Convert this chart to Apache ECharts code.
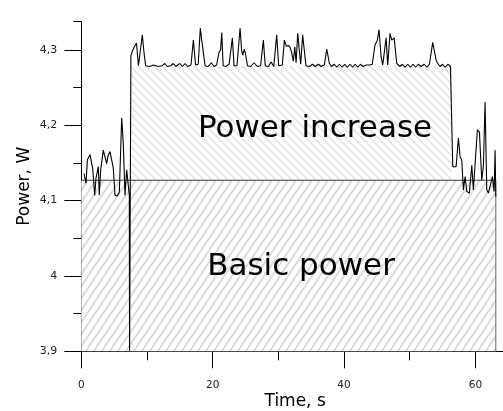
<!DOCTYPE html>
<html><head><meta charset="utf-8">
<script src="https://cdn.jsdelivr.net/npm/echarts@6/dist/echarts.min.js"></script>
<style>html,body{margin:0;padding:0;background:#fff}#c{width:503px;height:411px}</style>
</head><body><div id="c"></div>
<script>
// ---- data ----
const timeS = [0.41,0.72,0.92,1.32,1.58,1.73,2.04,2.24,2.59,2.74,2.95,3.15,3.35,3.61,3.86,4.11,4.37,4.62,4.87,5.13,5.48,5.79,6.15,6.40,6.65,6.91,7.16,7.31,7.35,
 7.55,7.75,8.05,8.4,8.6,8.7,9.0,9.29,9.55,9.8,10.4,11.0,11.3,11.7,12.3,12.7,13.1,13.6,14.0,14.4,15.0,15.4,15.8,16.2,16.7,17.06,17.4,17.8,18.12,18.35,18.63,18.84,
 19.3,19.8,20.2,20.6,20.97,21.2,21.38,21.6,22.0,22.5,23.0,23.25,23.7,24.17,24.4,24.57,24.83,25.03,25.3,25.8,26.3,26.8,27.3,27.72,28.0,28.5,28.9,29.3,29.75,30.05,
 30.6,30.92,31.2,31.53,31.8,32.03,32.28,32.5,32.7,32.95,33.15,33.4,33.7,33.95,34.2,34.7,35.2,35.6,36.1,36.5,37.0,37.37,37.77,38.1,38.5,38.9,39.3,39.7,40.1,40.5,
 40.9,41.3,41.7,42.1,42.5,42.9,43.4,43.9,44.3,44.72,45.07,45.33,45.64,45.89,46.40,46.65,47.0,47.26,47.62,48.03,48.5,48.9,49.3,49.7,50.1,50.5,50.9,51.3,51.7,52.2,
 52.6,53.0,53.5,53.7,54.0,54.2,54.6,55.0,55.4,55.8,56.2,56.4,56.55,57.06,57.41,57.67,57.92,58.17,58.43,58.69,59.08,59.45,59.69,59.95,60.3,60.61,60.97,61.22,61.47,
 61.73,61.98,62.23,62.58,62.84,63.0,63.1];
const powerW = [4.136,4.123,4.154,4.161,4.163,4.143,4.107,4.130,4.145,4.107,4.141,4.154,4.167,4.169,4.149,4.161,4.165,4.163,4.143,4.107,4.106,4.111,4.210,4.174,4.107,4.141,4.140,4.107,3.900,
 4.292,4.298,4.304,4.309,4.311,4.279,4.280,4.320,4.296,4.279,4.278,4.280,4.282,4.278,4.279,4.282,4.278,4.279,4.282,4.278,4.282,4.278,4.282,4.278,4.280,4.313,4.280,4.281,4.329,4.312,4.312,4.279,
 4.278,4.283,4.278,4.280,4.297,4.300,4.323,4.279,4.278,4.281,4.316,4.279,4.279,4.329,4.300,4.293,4.301,4.293,4.279,4.278,4.283,4.278,4.279,4.313,4.279,4.278,4.284,4.278,4.320,4.279,
 4.280,4.313,4.305,4.306,4.303,4.296,4.285,4.304,4.283,4.322,4.324,4.281,4.320,4.321,4.279,4.278,4.281,4.278,4.281,4.278,4.280,4.301,4.282,4.278,4.281,4.277,4.281,4.277,4.281,4.277,
 4.281,4.277,4.281,4.277,4.281,4.278,4.280,4.280,4.281,4.307,4.313,4.327,4.291,4.280,4.316,4.280,4.322,4.313,4.316,4.282,4.278,4.281,4.277,4.281,4.277,4.281,4.277,4.281,4.278,4.281,
 4.277,4.281,4.310,4.311,4.287,4.283,4.278,4.281,4.277,4.281,4.278,4.279,4.145,4.145,4.183,4.158,4.154,4.114,4.132,4.112,4.110,4.147,4.114,4.114,4.194,4.191,4.127,4.147,4.231,
 4.114,4.110,4.110,4.132,4.112,4.167,4.105];
const basicLevel = 4.127;           // "Basic power" level, W
const basicSpan = [0, 63.1];        // s
const increaseLevel = 4.279;        // plateau of "Power increase", W
const increaseSpan = [7.5, 56.4];   // s
const xMajorTicks = [0, 20, 40, 60];
const xMinorTicks = [10, 30, 50];
const yMajorTicks = [3.9, 4.0, 4.1, 4.2, 4.3];
const yMinorTicks = [3.95, 4.05, 4.15, 4.25, 4.338];
const X_MIN = 0, X_MAX = 64.2, Y_MIN = 3.9, Y_MAX = 4.338;

// ---- hatch patterns ----
function hatch(w, h, color, lw, dir, bg) {
  const c = document.createElement('canvas'); c.width = w; c.height = h;
  const g = c.getContext('2d');
  if (bg) { g.fillStyle = bg; g.fillRect(0, 0, w, h); }
  g.strokeStyle = color; g.lineWidth = lw;
  for (const off of [-w, 0, w]) {
    g.beginPath();
    if (dir === '/') { g.moveTo(off, h); g.lineTo(off + w, 0); }
    else { g.moveTo(off, 0); g.lineTo(off + w, h); }
    g.stroke();
  }
  return c;
}
const lowerPat = hatch(8, 12, '#dcdcdc', 2.2, '/', '#ffffff');
const upperPat = hatch(8, 8, '#e4e4e4', 1.6, '\\', '#ffffff');

const FONT = 'DejaVu Sans';
const mainLine = timeS.map((t, i) => [t, powerW[i]]);
const fmtY = v => String(Math.round(v * 10) / 10).replace('.', ',');

const chart = echarts.init(document.getElementById('c'), null, {renderer: 'canvas'});
chart.setOption({
  animation: false,
  backgroundColor: '#fff',
  grid: {left: 81.3, right: 0, top: 21.3, bottom: 59.7, containLabel: false, outerBoundsMode: 'none'},
  xAxis: [{
    type: 'value', min: X_MIN, max: X_MAX, interval: 20,
    name: 'Time, s', nameLocation: 'middle', nameGap: 42, nameMoveOverlap: false,
    nameTextStyle: {fontFamily: FONT, fontSize: 17, color: '#000', padding: [0, 0, 0, 6]},
    axisLine: {lineStyle: {color: '#000', width: 1}},
    axisTick: {inside: false, length: 17, customValues: xMajorTicks, lineStyle: {color: '#000'}},
    axisLabel: {customValues: xMajorTicks, fontFamily: FONT, fontSize: 10.5, color: '#222', margin: 28},
    splitLine: {show: false}
  }, {
    type: 'value', min: X_MIN, max: X_MAX, position: 'bottom',
    axisLine: {show: false},
    axisTick: {inside: false, length: 9, customValues: xMinorTicks, lineStyle: {color: '#000'}},
    axisLabel: {show: false}, splitLine: {show: false}
  }],
  yAxis: [{
    type: 'value', min: Y_MIN, max: Y_MAX, interval: 0.1,
    name: 'Power, W', nameLocation: 'middle', nameGap: 48, nameRotate: 90, nameMoveOverlap: false,
    nameTextStyle: {fontFamily: FONT, fontSize: 17, color: '#000'},
    axisLine: {show: true, lineStyle: {color: '#000', width: 1}},
    axisTick: {show: true, inside: false, length: 17, customValues: yMajorTicks, lineStyle: {color: '#000'}},
    axisLabel: {customValues: yMajorTicks, formatter: fmtY, fontFamily: FONT, fontSize: 11, color: '#222', margin: 24},
    splitLine: {show: false}
  }, {
    type: 'value', min: Y_MIN, max: Y_MAX, position: 'left',
    axisLine: {show: false},
    axisTick: {show: true, inside: false, length: 8, customValues: yMinorTicks, lineStyle: {color: '#000'}},
    axisLabel: {show: false}, splitLine: {show: false}
  }],
  series: [
    { // power increase area (hatched "\")
      type: 'line', silent: true, symbol: 'none', z: 1,
      data: [[increaseSpan[0], increaseLevel], [increaseSpan[1], increaseLevel]],
      lineStyle: {width: 0, opacity: 0},
      areaStyle: {origin: 'start', color: {image: upperPat, repeat: 'repeat'}, opacity: 1}
    },
    { // basic power area (hatched "/")
      type: 'line', silent: true, symbol: 'none', z: 2,
      data: [[basicSpan[0], basicLevel], [basicSpan[1], basicLevel]],
      lineStyle: {color: '#3a3a3a', width: 1.2},
      areaStyle: {origin: 'start', color: {image: lowerPat, repeat: 'repeat'}, opacity: 1}
    },
    { // right edge of basic power area
      type: 'line', silent: true, symbol: 'none', z: 3,
      data: [[basicSpan[1], Y_MIN], [basicSpan[1], basicLevel]],
      lineStyle: {color: '#808080', width: 1.2}
    },
    { // measured power
      type: 'line', silent: true, symbol: 'none', z: 4,
      data: mainLine,
      lineStyle: {color: '#000', width: 1.1}
    }
  ],
  graphic: [
    {type: 'text', x: 315, y: 129, z: 10, style: {text: 'Power increase', fontFamily: FONT, fontSize: 31, fill: '#000', align: 'center', verticalAlign: 'middle', textAlign: 'center', textVerticalAlign: 'middle'}},
    {type: 'text', x: 301, y: 267, z: 10, style: {text: 'Basic power', fontFamily: FONT, fontSize: 31, fill: '#000', align: 'center', verticalAlign: 'middle', textAlign: 'center', textVerticalAlign: 'middle'}}
  ]
});
</script></body></html>
